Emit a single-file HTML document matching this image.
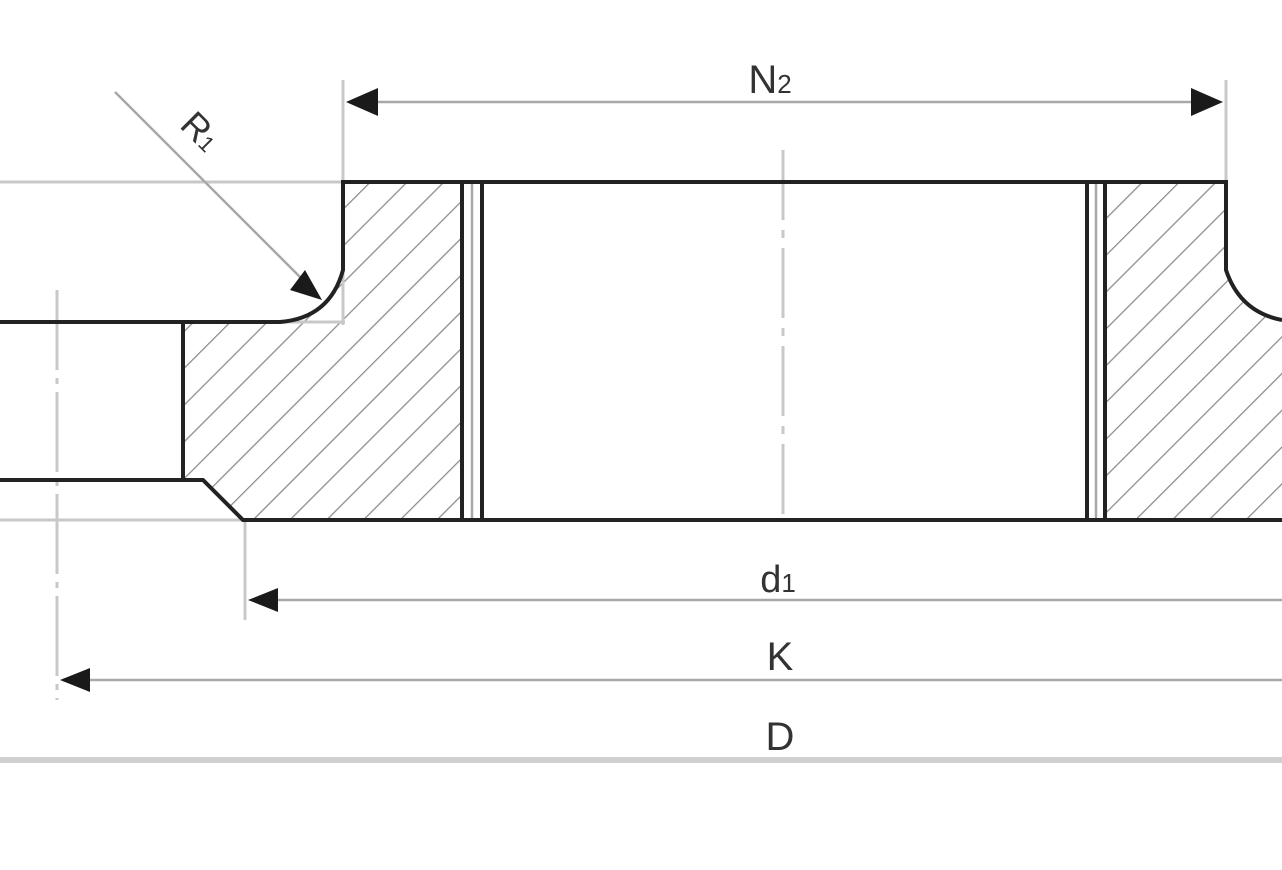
<!DOCTYPE html>
<html><head><style>body{margin:0;background:#fff}svg{display:block}</style></head><body>
<svg width="1282" height="870" viewBox="0 0 1282 870" xmlns="http://www.w3.org/2000/svg" font-family="Liberation Sans, sans-serif">
<defs>
<pattern id="h" patternUnits="userSpaceOnUse" width="26" height="26" patternTransform="rotate(45)">
<line x1="0" y1="0" x2="0" y2="26" stroke="#8a8a8a" stroke-width="2.5"/>
</pattern>
</defs>
<path d="M343,182 L462,182 L462,520 L243,520 L203,480 L183,480 L183,322 L280,322 Q330,318 343,270 Z" fill="url(#h)"/>
<path d="M1105,182 L1226,182 L1226,270 Q1240,310 1282,320 L1282,520 L1105,520 Z" fill="url(#h)"/>
<g stroke="#c8c8c8" stroke-width="3" fill="none">
<line x1="0" y1="182" x2="343" y2="182"/>
<line x1="0" y1="520" x2="243" y2="520"/>
<line x1="343" y1="80" x2="343" y2="325"/>
<line x1="1226" y1="80" x2="1226" y2="182"/>
<line x1="245" y1="520" x2="245" y2="620"/>
<line x1="57" y1="290" x2="57" y2="700" stroke-dasharray="80,8,6,8"/>
<line x1="783" y1="150" x2="783" y2="520" stroke-dasharray="70,10,8,10"/>
<line x1="280" y1="322" x2="345" y2="322"/>
</g>
<line x1="0" y1="760" x2="1282" y2="760" stroke="#d0d0d0" stroke-width="6"/>
<g stroke="#a8a8a8" stroke-width="2.5">
<line x1="370" y1="102" x2="1200" y2="102"/>
<line x1="270" y1="600" x2="1282" y2="600"/>
<line x1="82" y1="680" x2="1282" y2="680"/>
<line x1="115" y1="92" x2="305" y2="282"/>
<line x1="472" y1="182" x2="472" y2="520"/>
<line x1="1096" y1="182" x2="1096" y2="520"/>
</g>
<g fill="#1a1a1a">
<polygon points="346,102 378,88 378,116"/>
<polygon points="1223,102 1191,88 1191,116"/>
<polygon points="248,600 278,588 278,612"/>
<polygon points="60,680 90,668 90,692"/>
<polygon points="322,300 290,290 305,270"/>
</g>
<g stroke="#222" stroke-width="4" fill="none">
<path d="M0,322 L280,322 Q330,318 343,270 L343,182 L1226,182 L1226,270 Q1240,312 1282,320"/>
<path d="M0,480 L203,480 L243,520 L1282,520"/>
<line x1="183" y1="322" x2="183" y2="480"/>
<line x1="462" y1="182" x2="462" y2="520"/>
<line x1="482" y1="182" x2="482" y2="520"/>
<line x1="1087" y1="182" x2="1087" y2="520"/>
<line x1="1105" y1="182" x2="1105" y2="520"/>
</g>
<g fill="#333" text-anchor="middle">
<text x="770" y="93" font-size="40">N<tspan font-size="26">2</tspan></text>
<text x="778" y="592" font-size="38">d<tspan font-size="26">1</tspan></text>
<text x="780" y="670" font-size="40">K</text>
<text x="780" y="750" font-size="40">D</text>
<text x="0" y="0" font-size="36" transform="translate(192,140) rotate(45)">R<tspan font-size="22">1</tspan></text>
</g>
</svg>
</body></html>
